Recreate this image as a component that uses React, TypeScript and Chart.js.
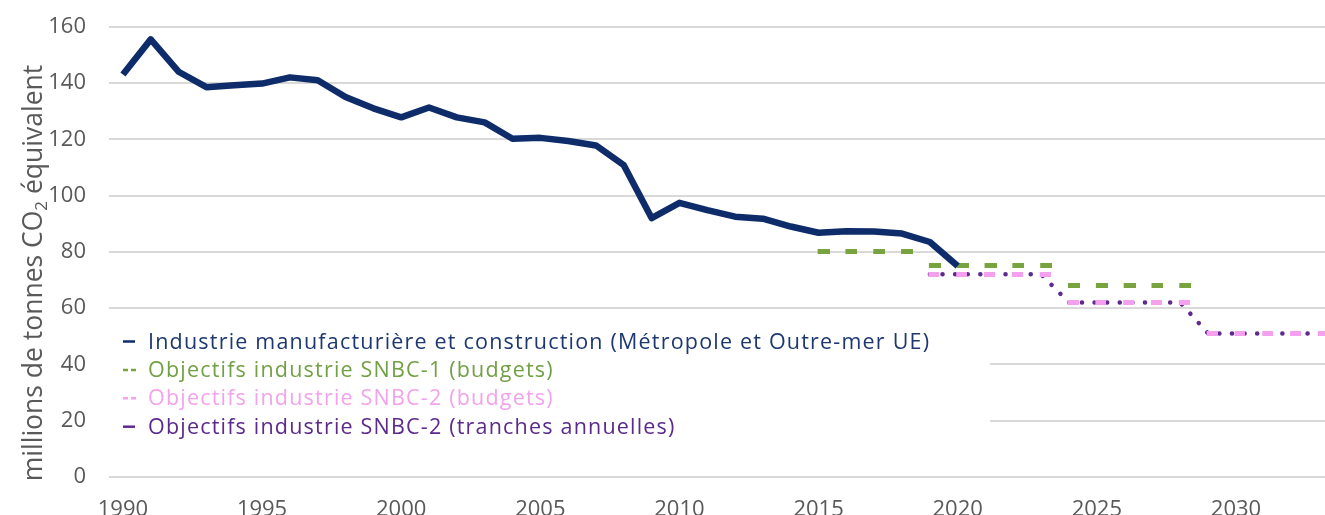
import React, { useEffect, useRef } from "react";
import { Chart, registerables } from "chart.js";

Chart.register(...registerables);

// ---------- data ----------
const industryYears = [
  1990, 1991, 1992, 1993, 1994, 1995, 1996, 1997, 1998, 1999, 2000, 2001, 2002,
  2003, 2004, 2005, 2006, 2007, 2008, 2009, 2010, 2011, 2012, 2013, 2014, 2015,
  2016, 2017, 2018, 2019, 2020,
];
const industryValues = [
  143, 155.5, 144, 138.5, 139.2, 139.8, 142, 141, 135, 131, 127.8, 131.3, 127.8,
  126, 120.2, 120.5, 119.4, 117.8, 110.8, 92, 97.4, 94.8, 92.5, 91.8, 89, 86.8,
  87.3, 87.2, 86.5, 83.5, 75,
];

const snbc1Years = [
  2015, 2016, 2017, 2018, 2019, 2020, 2021, 2022, 2023, 2024, 2025, 2026, 2027, 2028,
];
const snbc1Values = [80, 80, 80, 80, 75, 75, 75, 75, 75, 68, 68, 68, 68, 68];

const snbc2Years = [
  2019, 2020, 2021, 2022, 2023, 2024, 2025, 2026, 2027, 2028, 2029, 2030, 2031, 2032, 2033,
];
const snbc2BudgetValues = [72, 72, 72, 72, 72, 62, 62, 62, 62, 62, 51, 51, 51, 51, 51];
const snbc2TrancheValues = [72, 72, 72, 72, 72, 62, 62, 62, 62, 62, 51, 51, 51, 51, 51];

const seriesLabels = [
  "Industrie manufacturière et construction (Métropole et Outre-mer UE)",
  "Objectifs industrie SNBC-1 (budgets)",
  "Objectifs industrie SNBC-2 (budgets)",
  "Objectifs industrie SNBC-2 (tranches annuelles)",
];
const legendMarkers = ["solid", "dash", "dash", "solid"];

const yTitleParts = ["millions de tonnes CO", "2", " équivalent"];

// ---------- styles ----------
const NAVY = "#0e2c6a";
const GREEN = "#78a33e";
const PINK = "#f4a0ef";
const PURPLE = "#5e2a8f";
const legendTextColors = ["#1d3870", "#72a044", "#f2a3ec", "#5a2a8c"];
const AXIS_TEXT = "#595959";
const FONT = "'Open Sans', 'Noto Sans', sans-serif";

const toPoints = (xs: number[], ys: number[]) => xs.map((x, i) => ({ x, y: ys[i] }));

// a short horizontal dash marker that starts just left of the data point
function makeDashMarker(len: number, thick: number, color: string, lead: number) {
  const half = len - lead;
  const c = document.createElement("canvas");
  c.width = Math.ceil(half * 2);
  c.height = Math.ceil(thick);
  const g = c.getContext("2d")!;
  g.fillStyle = color;
  g.fillRect(c.width / 2 - lead, 0, len, thick);
  return c;
}

const legendPlugin = {
  id: "boxLegend",
  afterDraw(chart: any) {
    const ctx = chart.ctx as CanvasRenderingContext2D;
    const left = chart.chartArea.left;
    ctx.save();
    ctx.fillStyle = "#ffffff";
    ctx.fillRect(left, 317, 990 - left, 141);
    ctx.font = `21.5px ${FONT}`;
    (ctx as any).letterSpacing = "1.2px";
    ctx.textBaseline = "alphabetic";
    ctx.textAlign = "left";
    seriesLabels.forEach((label, i) => {
      const base = 348.5 + i * 28.4;
      const my = base - 7;
      ctx.strokeStyle = chart.data.datasets[i].borderColor;
      ctx.lineWidth = 2.5;
      ctx.lineCap = "butt";
      ctx.beginPath();
      if (legendMarkers[i] === "solid") {
        ctx.moveTo(123, my);
        ctx.lineTo(135, my);
      } else {
        ctx.moveTo(123, my);
        ctx.lineTo(128, my);
        ctx.moveTo(131, my);
        ctx.lineTo(136, my);
      }
      ctx.stroke();
      ctx.fillStyle = legendTextColors[i];
      ctx.fillText(label, 148, base);
    });
    ctx.restore();
  },
};

const yTitlePlugin = {
  id: "yTitle",
  afterDraw(chart: any) {
    const ctx = chart.ctx as CanvasRenderingContext2D;
    ctx.save();
    ctx.translate(42, 273);
    ctx.rotate(-Math.PI / 2);
    ctx.fillStyle = AXIS_TEXT;
    ctx.textBaseline = "alphabetic";
    ctx.textAlign = "left";
    const mainFont = `26.5px ${FONT}`;
    const subFont = `17px ${FONT}`;
    ctx.font = mainFont;
    const w1 = ctx.measureText(yTitleParts[0]).width;
    const w3 = ctx.measureText(yTitleParts[2]).width;
    ctx.font = subFont;
    const w2 = ctx.measureText(yTitleParts[1]).width;
    let x = -(w1 + w2 + w3) / 2;
    ctx.font = mainFont;
    ctx.fillText(yTitleParts[0], x, 0);
    x += w1;
    ctx.font = subFont;
    ctx.fillText(yTitleParts[1], x, 5);
    x += w2;
    ctx.font = mainFont;
    ctx.fillText(yTitleParts[2], x, 0);
    ctx.restore();
  },
};

export default function App() {
  const canvasRef = useRef<HTMLCanvasElement | null>(null);

  useEffect(() => {
    document.body.style.margin = "0";
    const canvas = canvasRef.current;
    if (!canvas) return;
    const greenDash = makeDashMarker(12, 5, GREEN, 1);
    const pinkDash = makeDashMarker(11, 5, PINK, 1.5);
    const chart = new Chart(canvas, {
      type: "line",
      data: {
        datasets: [
          {
            label: seriesLabels[0],
            data: toPoints(industryYears, industryValues),
            borderColor: NAVY,
            borderWidth: 6.5,
            pointRadius: 0,
            tension: 0,
            borderJoinStyle: "round",
            borderCapStyle: "butt",
            order: 0,
          },
          {
            label: seriesLabels[1],
            data: toPoints(snbc1Years, snbc1Values),
            borderColor: GREEN,
            backgroundColor: GREEN,
            showLine: false,
            pointStyle: greenDash,
            pointRadius: 6,
            pointHoverRadius: 6,
            order: 3,
          },
          {
            label: seriesLabels[2],
            data: toPoints(snbc2Years, snbc2BudgetValues),
            borderColor: PINK,
            backgroundColor: PINK,
            showLine: false,
            pointStyle: pinkDash,
            pointRadius: 6,
            pointHoverRadius: 6,
            order: 1,
          },
          {
            label: seriesLabels[3],
            data: toPoints(snbc2Years, snbc2TrancheValues),
            borderColor: PURPLE,
            borderWidth: 4.5,
            borderDash: [0.1, 12.5],
            borderCapStyle: "round",
            pointRadius: 0,
            tension: 0,
            order: 2,
          },
        ],
      },
      options: {
        animation: false,
        responsive: false,
        layout: { autoPadding: false, padding: { top: 26.7, right: 0, bottom: 0, left: 0 } },
        plugins: {
          legend: { display: false },
          tooltip: { enabled: false },
          title: { display: false },
        },
        scales: {
          x: {
            type: "linear",
            min: 1989.5,
            max: 2033.2,
            grid: { display: false, drawTicks: false },
            border: { display: false },
            ticks: {
              stepSize: 5,
              includeBounds: false,
              autoSkip: false,
              maxRotation: 0,
              padding: 20,
              color: AXIS_TEXT,
              font: { family: FONT, size: 22 },
              callback: (v: any) => String(v),
            },
            afterFit: (s: any) => {
              s.height = 38;
              s.paddingLeft = 0;
              s.paddingRight = 0;
            },
          },
          y: {
            min: 0,
            max: 160,
            grid: { color: "#d9d9d9", lineWidth: 2, drawTicks: false },
            border: { display: false },
            ticks: {
              stepSize: 20,
              padding: 23,
              color: AXIS_TEXT,
              font: { family: FONT, size: 22 },
            },
            afterFit: (s: any) => {
              s.width = 109;
              s.paddingTop = 0;
              s.paddingBottom = 0;
            },
          },
        },
      },
      plugins: [legendPlugin, yTitlePlugin],
    });
    return () => chart.destroy();
  }, []);

  return (
    <div style={{ width: 1325, height: 515, background: "#ffffff" }}>
      <canvas ref={canvasRef} width={1325} height={515} style={{ display: "block" }} />
    </div>
  );
}
